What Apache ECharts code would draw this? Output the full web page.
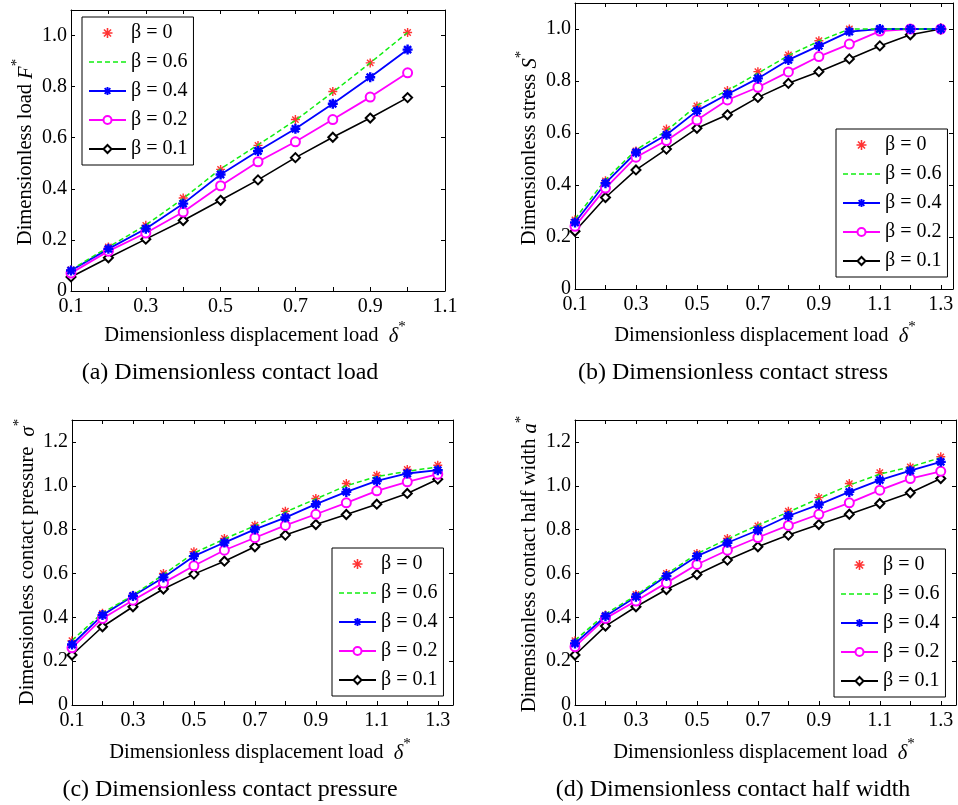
<!DOCTYPE html>
<html>
<head>
<meta charset="utf-8">
<script src="https://cdn.jsdelivr.net/npm/echarts@6/dist/echarts.min.js"></script>
<style>
html, body { margin: 0; padding: 0; background: #fff; }
#chart { width: 958px; height: 805px; }
</style>
</head>
<body>
<div id="chart"></div>
<script>
// x values (dimensionless displacement load)
const xLoad = [0.1, 0.2, 0.3, 0.4, 0.5, 0.6, 0.7, 0.8, 0.9, 1.0];
const xDisp = [0.1, 0.2, 0.3, 0.4, 0.5, 0.6, 0.7, 0.8, 0.9, 1.0, 1.1, 1.2, 1.3];

const betaNames = ['β = 0', 'β = 0.6', 'β = 0.4', 'β = 0.2', 'β = 0.1'];

// (a) dimensionless contact load
const loadB0  = [0.083, 0.172, 0.257, 0.364, 0.476, 0.570, 0.671, 0.781, 0.893, 1.012];
const loadB06 = [0.083, 0.172, 0.258, 0.362, 0.478, 0.572, 0.668, 0.778, 0.893, 1.012];
const loadB04 = [0.080, 0.165, 0.244, 0.342, 0.456, 0.548, 0.635, 0.733, 0.837, 0.945];
const loadB02 = [0.070, 0.156, 0.227, 0.309, 0.412, 0.506, 0.584, 0.671, 0.759, 0.854];
const loadB01 = [0.055, 0.130, 0.203, 0.276, 0.355, 0.435, 0.522, 0.602, 0.677, 0.757];

// (b) dimensionless contact stress
const stressB0  = [0.266, 0.416, 0.531, 0.615, 0.704, 0.763, 0.836, 0.900, 0.955, 1.000, 1.000, 1.000, 1.000];
const stressB06 = [0.270, 0.420, 0.535, 0.608, 0.706, 0.763, 0.830, 0.898, 0.953, 1.000, 1.000, 1.000, 1.000];
const stressB04 = [0.256, 0.407, 0.525, 0.593, 0.685, 0.749, 0.810, 0.881, 0.935, 0.990, 1.000, 1.000, 1.000];
const stressB02 = [0.241, 0.388, 0.507, 0.571, 0.650, 0.727, 0.776, 0.835, 0.894, 0.942, 0.992, 1.000, 1.000];
const stressB01 = [0.222, 0.352, 0.458, 0.538, 0.618, 0.670, 0.737, 0.791, 0.836, 0.885, 0.935, 0.978, 1.000];

// (c) dimensionless contact pressure
const pressB0  = [0.293, 0.418, 0.501, 0.600, 0.699, 0.760, 0.820, 0.884, 0.942, 1.010, 1.048, 1.074, 1.094];
const pressB06 = [0.295, 0.420, 0.500, 0.595, 0.693, 0.757, 0.818, 0.880, 0.940, 1.000, 1.042, 1.066, 1.086];
const pressB04 = [0.276, 0.410, 0.497, 0.582, 0.679, 0.741, 0.801, 0.855, 0.916, 0.972, 1.022, 1.056, 1.071];
const pressB02 = [0.261, 0.395, 0.478, 0.557, 0.635, 0.706, 0.763, 0.819, 0.870, 0.922, 0.977, 1.018, 1.053];
const pressB01 = [0.228, 0.357, 0.448, 0.529, 0.597, 0.656, 0.722, 0.775, 0.823, 0.869, 0.916, 0.965, 1.030];

// (d) dimensionless contact half width
const widthB0  = [0.293, 0.410, 0.504, 0.600, 0.691, 0.760, 0.817, 0.884, 0.946, 1.010, 1.060, 1.086, 1.132];
const widthB06 = [0.295, 0.415, 0.500, 0.597, 0.690, 0.757, 0.820, 0.880, 0.942, 1.003, 1.053, 1.086, 1.128];
const widthB04 = [0.281, 0.405, 0.494, 0.588, 0.679, 0.740, 0.797, 0.862, 0.914, 0.972, 1.026, 1.069, 1.109];
const widthB02 = [0.266, 0.395, 0.474, 0.557, 0.641, 0.706, 0.764, 0.819, 0.870, 0.922, 0.980, 1.033, 1.066];
const widthB01 = [0.228, 0.360, 0.448, 0.527, 0.595, 0.661, 0.722, 0.775, 0.823, 0.870, 0.919, 0.968, 1.033];

const FONT = 'Liberation Serif, Times New Roman, serif';

// asterisk markers (matlab '*')
const starThin = 'path://M-0.8,-5L0.8,-5L0.8,5L-0.8,5Z M-5,-0.8L5,-0.8L5,0.8L-5,0.8Z M-4.1,-3.0L-3.0,-4.1L4.1,3.0L3.0,4.1Z M3.0,-4.1L4.1,-3.0L-3.0,4.1L-4.1,3.0Z';
const starFat = 'path://M-1.2,-5L1.2,-5L1.2,5L-1.2,5Z M-5,-1.2L5,-1.2L5,1.2L-5,1.2Z M-4.4,-2.7L-2.7,-4.4L4.4,2.7L2.7,4.4Z M2.7,-4.4L4.4,-2.7L-2.7,4.4L-4.4,2.7Z';
// legend icon for the dashed line (tiny corner dots keep the box 37x10)
const dashIcon = 'path://M0,0h0.01v0.01h-0.01Z M37,10h-0.01v-0.01h0.01Z ' +
  'M0,4.3h5v1.4h-5Z M8,4.3h5v1.4h-5Z M16,4.3h5v1.4h-5Z M24,4.3h5v1.4h-5Z M32,4.3h5v1.4h-5Z';

const panels = [
  { xs: xLoad, xMax: 1.1, yMax: 1.1, showMaxX: true,
    data: [loadB0, loadB06, loadB04, loadB02, loadB01],
    grid: { left: 71, top: 10, width: 374, height: 281 },
    legend: [82, 17],
    xTitle: [255, 333], yTitle: [23, 152], caption: [230, 373],
    yName: 'Dimensionless load ', ySym: 'F',
    capText: '(a) Dimensionless contact load' },
  { xs: xDisp, xMax: 1.34, yMax: 1.1, showMaxX: false,
    data: [stressB0, stressB06, stressB04, stressB02, stressB01],
    grid: { left: 575, top: 3, width: 378, height: 286 },
    legend: [836, 129],
    xTitle: [765, 333], yTitle: [527, 148], caption: [733, 373],
    yName: 'Dimensionless stress ', ySym: 'S',
    capText: '(b) Dimensionless contact stress' },
  { xs: xDisp, xMax: 1.35, yMax: 1.3, showMaxX: false,
    data: [pressB0, pressB06, pressB04, pressB02, pressB01],
    grid: { left: 72, top: 420, width: 381, height: 285 },
    legend: [332, 548],
    xTitle: [260, 750], yTitle: [25, 562], caption: [230, 790],
    yName: 'Dimensionless contact pressure  ', ySym: 'σ',
    capText: '(c) Dimensionless contact pressure' },
  { xs: xDisp, xMax: 1.35, yMax: 1.3, showMaxX: false,
    data: [widthB0, widthB06, widthB04, widthB02, widthB01],
    grid: { left: 575, top: 420, width: 381, height: 285 },
    legend: [834, 549],
    xTitle: [764, 750], yTitle: [527, 564], caption: [733, 790],
    yName: 'Dimensionless contact half width ', ySym: 'a',
    capText: '(d) Dimensionless contact half width' }
];

const axisLineStyle = { onZero: false, lineStyle: { color: '#000', width: 1 } };
const tickStyle = { inside: true, length: 4, lineStyle: { color: '#000', width: 1 } };

const grids = [], xAxes = [], yAxes = [], series = [], legends = [], graphics = [];

const richStyle = {
  n: { fontFamily: FONT, fontSize: 20.5, lineHeight: 27, verticalAlign: 'bottom', fill: '#000' },
  i: { fontFamily: FONT, fontSize: 20.5, fontStyle: 'italic', lineHeight: 27, verticalAlign: 'bottom', fill: '#000' },
  s: { fontFamily: FONT, fontSize: 15, lineHeight: 14, verticalAlign: 'top', fill: '#000' }
};

const legendData = betaNames.map(n => (n === 'β = 0.6' ? { name: n, icon: dashIcon } : { name: n }));

panels.forEach((p, k) => {
  grids.push(Object.assign({ containLabel: false }, p.grid));

  xAxes.push({
    type: 'value', gridIndex: k, position: 'bottom', min: 0.1, max: p.xMax, interval: 0.1,
    axisLine: axisLineStyle, axisTick: tickStyle, splitLine: { show: false },
    axisLabel: {
      color: '#000', fontFamily: FONT, fontSize: 20, margin: 6, showMaxLabel: p.showMaxX,
      formatter: v => (Math.round(v * 10) % 2 === 1 ? v.toFixed(1) : '')
    }
  });
  xAxes.push({
    type: 'value', gridIndex: k, position: 'top', min: 0.1, max: p.xMax, interval: 0.1,
    axisLine: axisLineStyle, axisTick: tickStyle, splitLine: { show: false },
    axisLabel: { show: false }
  });
  yAxes.push({
    type: 'value', gridIndex: k, position: 'left', min: 0, max: p.yMax, interval: 0.2,
    axisLine: axisLineStyle, axisTick: tickStyle, splitLine: { show: false },
    axisLabel: {
      color: '#000', fontFamily: FONT, fontSize: 20, margin: 4, showMaxLabel: false,
      formatter: v => (v === 0 ? '0' : v.toFixed(1))
    }
  });
  yAxes.push({
    type: 'value', gridIndex: k, position: 'right', min: 0, max: p.yMax, interval: 0.2,
    axisLine: axisLineStyle, axisTick: tickStyle, splitLine: { show: false },
    axisLabel: { show: false }
  });

  const pts = arr => arr.map((v, i) => [p.xs[i], v]);
  const base = { xAxisIndex: 2 * k, yAxisIndex: 2 * k, animation: false };

  // beta = 0.1
  series.push(Object.assign({
    name: betaNames[4], type: 'line', data: pts(p.data[4]),
    symbol: 'emptyDiamond', symbolSize: 9, showAllSymbol: true,
    lineStyle: { color: '#000', width: 1.6 }, itemStyle: { color: '#000', borderWidth: 1.5 }
  }, base));
  // beta = 0.2
  series.push(Object.assign({
    name: betaNames[3], type: 'line', data: pts(p.data[3]),
    symbol: 'emptyCircle', symbolSize: 9, showAllSymbol: true,
    lineStyle: { color: '#ff00ff', width: 1.8 }, itemStyle: { color: '#ff00ff', borderWidth: 1.5 }
  }, base));
  // beta = 0.4
  series.push(Object.assign({
    name: betaNames[2], type: 'line', data: pts(p.data[2]),
    symbol: starFat, symbolSize: 10, showAllSymbol: true,
    lineStyle: { color: '#0000ff', width: 1.8 }, itemStyle: { color: '#0000ff' }
  }, base));
  // beta = 0 (markers only)
  series.push(Object.assign({
    name: betaNames[0], type: 'scatter', data: pts(p.data[0]),
    symbol: starThin, symbolSize: 9,
    itemStyle: { color: '#ff0000' }
  }, base));
  // beta = 0.6 (dashed, no markers)
  series.push(Object.assign({
    name: betaNames[1], type: 'line', data: pts(p.data[1]),
    symbol: 'none',
    lineStyle: { color: '#11ee11', width: 1.5, type: [5, 3] }, itemStyle: { color: '#11ee11' }
  }, base));

  legends.push({
    orient: 'vertical', left: p.legend[0], top: p.legend[1], data: legendData,
    itemWidth: 37, itemHeight: 10, itemGap: 9, padding: [6, 6, 6, 6],
    borderColor: '#000', borderWidth: 1, borderRadius: 0, backgroundColor: '#fff',
    selectedMode: false,
    textStyle: { fontFamily: FONT, fontSize: 20, color: '#000', lineHeight: 20 }
  });

  graphics.push({
    type: 'text', x: p.xTitle[0], y: p.xTitle[1],
    style: {
      text: '{n|Dimensionless displacement load  }{i|δ}{s|*}', rich: richStyle,
      align: 'center', verticalAlign: 'middle'
    }
  });
  graphics.push({
    type: 'text', x: p.yTitle[0], y: p.yTitle[1], rotation: Math.PI / 2,
    style: {
      text: '{n|' + p.yName + '}{i|' + p.ySym + '}{s|*}', rich: richStyle,
      align: 'center', verticalAlign: 'middle'
    }
  });
  graphics.push({
    type: 'text', x: p.caption[0], y: p.caption[1],
    style: {
      text: p.capText, fontFamily: FONT, fontSize: 24, fill: '#000',
      align: 'center', verticalAlign: 'middle'
    }
  });
});

const myChart = echarts.init(document.getElementById('chart'));
myChart.setOption({
  animation: false,
  backgroundColor: '#fff',
  grid: grids,
  xAxis: xAxes,
  yAxis: yAxes,
  legend: legends,
  series: series,
  graphic: graphics
});
</script>
</body>
</html>
